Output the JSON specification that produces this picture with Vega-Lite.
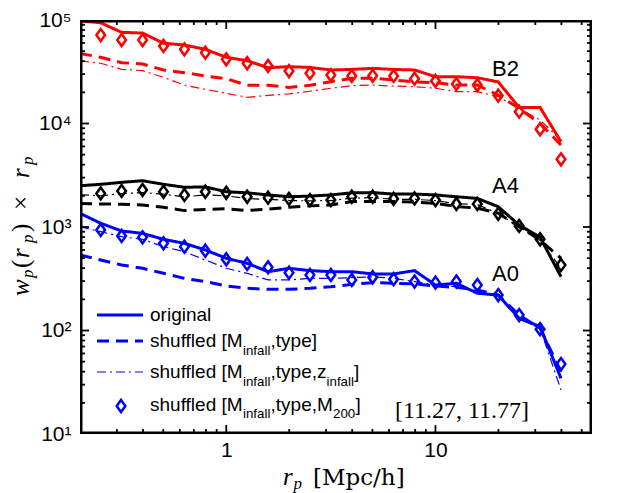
{
  "$schema": "https://vega.github.io/schema/vega-lite/v6.json",
  "width": 512,
  "height": 414,
  "autosize": "none",
  "padding": {"left": 80, "top": 20, "right": 26, "bottom": 59},
  "background": "#ffffff",
  "config": {
    "view": {"stroke": null},
    "axis": {"grid": false, "domain": false, "ticks": false, "labelFont": "Liberation Sans", "labelFontSize": 21, "labelColor": "#000000", "labelOverlap": false, "labelBound": false, "labelFlush": false}
  },
  "datasets": {
    "curves": [
      {"g":"B2","r":0.2,"o":98000,"s":47600,"z":40400},
      {"g":"B2","r":0.2512,"o":94000,"s":43600,"z":38200,"m":71600},
      {"g":"B2","r":0.3162,"o":76000,"s":38700,"z":33400,"m":64100},
      {"g":"B2","r":0.3981,"o":74800,"s":37600,"z":32400,"m":64100},
      {"g":"B2","r":0.5012,"o":59600,"s":32900,"z":27900,"m":56100},
      {"g":"B2","r":0.631,"o":57300,"s":31000,"z":23500,"m":52100},
      {"g":"B2","r":0.7943,"o":52100,"s":28800,"z":21400,"m":48300},
      {"g":"B2","r":1.0,"o":43600,"s":27100,"z":19600,"m":41700},
      {"g":"B2","r":1.2589,"o":40400,"s":23400,"z":17900,"m":38200},
      {"g":"B2","r":1.5849,"o":34600,"s":23400,"z":18700,"m":36000},
      {"g":"B2","r":1.9953,"o":35400,"s":22300,"z":19300,"m":32100},
      {"g":"B2","r":2.5119,"o":34800,"s":23400,"z":20500,"m":30600},
      {"g":"B2","r":3.1623,"o":32900,"s":25300,"z":21900,"m":29400},
      {"g":"B2","r":3.9811,"o":33300,"s":27400,"z":23200,"m":28800},
      {"g":"B2","r":5.0119,"o":34100,"s":27400,"z":23500,"m":28900},
      {"g":"B2","r":6.3096,"o":33300,"s":26300,"z":23000,"m":28800},
      {"g":"B2","r":7.9433,"o":32900,"s":25300,"z":22700,"m":27100},
      {"g":"B2","r":10.0,"o":28300,"s":24800,"z":21900,"m":25800},
      {"g":"B2","r":12.589,"o":28300,"s":23500,"z":20300,"m":24100},
      {"g":"B2","r":15.849,"o":27700,"s":23500,"z":20300,"m":23500},
      {"g":"B2","r":19.953,"o":25200,"s":18800,"z":18200,"m":18600},
      {"g":"B2","r":25.119,"o":14300,"s":14000,"z":14000,"m":13000},
      {"g":"B2","r":31.623,"o":14300,"s":10000,"z":10800,"m":8800},
      {"g":"B2","r":39.811,"o":6670,"s":6200,"z":6900,"m":4510},
      {"g":"A4","r":0.2,"o":2505,"s":1690,"z":2050},
      {"g":"A4","r":0.2512,"o":2585,"s":1670,"z":2000,"m":2110},
      {"g":"A4","r":0.3162,"o":2700,"s":1660,"z":2100,"m":2230},
      {"g":"A4","r":0.3981,"o":2800,"s":1630,"z":2150,"m":2280},
      {"g":"A4","r":0.5012,"o":2585,"s":1550,"z":2080,"m":2190},
      {"g":"A4","r":0.631,"o":2420,"s":1440,"z":1950,"m":2040},
      {"g":"A4","r":0.7943,"o":2440,"s":1480,"z":2050,"m":2190},
      {"g":"A4","r":1.0,"o":2190,"s":1500,"z":2000,"m":2140},
      {"g":"A4","r":1.2589,"o":2140,"s":1440,"z":1880,"m":1960},
      {"g":"A4","r":1.5849,"o":2040,"s":1490,"z":1850,"m":1920},
      {"g":"A4","r":1.9953,"o":1960,"s":1550,"z":1800,"m":1870},
      {"g":"A4","r":2.5119,"o":1990,"s":1600,"z":1790,"m":1820},
      {"g":"A4","r":3.1623,"o":2040,"s":1630,"z":1800,"m":1820},
      {"g":"A4","r":3.9811,"o":2140,"s":1760,"z":1900,"m":1960},
      {"g":"A4","r":5.0119,"o":2150,"s":1760,"z":1920,"m":1960},
      {"g":"A4","r":6.3096,"o":2080,"s":1760,"z":1850,"m":1870},
      {"g":"A4","r":7.9433,"o":2080,"s":1740,"z":1850,"m":1890},
      {"g":"A4","r":10.0,"o":2040,"s":1690,"z":1800,"m":1820},
      {"g":"A4","r":12.589,"o":1960,"s":1580,"z":1680,"m":1670},
      {"g":"A4","r":15.849,"o":1890,"s":1520,"z":1650,"m":1670},
      {"g":"A4","r":19.953,"o":1570,"s":1360,"z":1350,"m":1340},
      {"g":"A4","r":25.119,"o":1044,"s":1006,"z":1000,"m":1023},
      {"g":"A4","r":31.623,"o":795,"s":748,"z":740,"m":760},
      {"g":"A4","r":39.811,"o":331,"s":499,"z":400,"m":430},
      {"g":"A0","r":0.2,"o":1356,"s":536,"z":1006},
      {"g":"A0","r":0.2512,"o":1086,"s":480,"z":901,"m":936},
      {"g":"A0","r":0.3162,"o":915,"s":430,"z":806,"m":819},
      {"g":"A0","r":0.3981,"o":868,"s":399,"z":760,"m":795},
      {"g":"A0","r":0.5012,"o":760,"s":357,"z":646,"m":695},
      {"g":"A0","r":0.631,"o":695,"s":319,"z":578,"m":646},
      {"g":"A0","r":0.7943,"o":600,"s":297,"z":480,"m":590},
      {"g":"A0","r":1.0,"o":499,"s":269,"z":399,"m":488},
      {"g":"A0","r":1.2589,"o":446,"s":256,"z":357,"m":440},
      {"g":"A0","r":1.5849,"o":370,"s":250,"z":308,"m":408},
      {"g":"A0","r":1.9953,"o":399,"s":250,"z":308,"m":362},
      {"g":"A0","r":2.5119,"o":379,"s":256,"z":319,"m":344},
      {"g":"A0","r":3.1623,"o":370,"s":265,"z":319,"m":344},
      {"g":"A0","r":3.9811,"o":370,"s":279,"z":324,"m":308},
      {"g":"A0","r":5.0119,"o":352,"s":290,"z":330,"m":327},
      {"g":"A0","r":6.3096,"o":352,"s":286,"z":319,"m":313},
      {"g":"A0","r":7.9433,"o":379,"s":282,"z":297,"m":297},
      {"g":"A0","r":10.0,"o":275,"s":269,"z":275,"m":290},
      {"g":"A0","r":12.589,"o":286,"s":261,"z":265,"m":297},
      {"g":"A0","r":15.849,"o":229,"s":246,"z":240,"m":275},
      {"g":"A0","r":19.953,"o":220,"s":220,"z":212,"m":220},
      {"g":"A0","r":25.119,"o":131,"s":141,"z":130,"m":141},
      {"g":"A0","r":31.623,"o":109,"s":105,"z":105,"m":103},
      {"g":"A0","r":39.811,"o":34.5,"s":40,"z":26.6,"m":47.4}
    ],
    "xticks": [
      {"v":0.3,"maj":0},{"v":0.4,"maj":0},{"v":0.5,"maj":0},{"v":0.6,"maj":0},{"v":0.7,"maj":0},{"v":0.8,"maj":0},{"v":0.9,"maj":0},
      {"v":1,"maj":1},{"v":2,"maj":0},{"v":3,"maj":0},{"v":4,"maj":0},{"v":5,"maj":0},{"v":6,"maj":0},{"v":7,"maj":0},{"v":8,"maj":0},{"v":9,"maj":0},
      {"v":10,"maj":1},{"v":20,"maj":0},{"v":30,"maj":0},{"v":40,"maj":0},{"v":50,"maj":0}
    ],
    "yticks": [
      {"v":20,"maj":0},{"v":30,"maj":0},{"v":40,"maj":0},{"v":50,"maj":0},{"v":60,"maj":0},{"v":70,"maj":0},{"v":80,"maj":0},{"v":90,"maj":0},
      {"v":100,"maj":1},{"v":200,"maj":0},{"v":300,"maj":0},{"v":400,"maj":0},{"v":500,"maj":0},{"v":600,"maj":0},{"v":700,"maj":0},{"v":800,"maj":0},{"v":900,"maj":0},
      {"v":1000,"maj":1},{"v":2000,"maj":0},{"v":3000,"maj":0},{"v":4000,"maj":0},{"v":5000,"maj":0},{"v":6000,"maj":0},{"v":7000,"maj":0},{"v":8000,"maj":0},{"v":9000,"maj":0},
      {"v":10000,"maj":1},{"v":20000,"maj":0},{"v":30000,"maj":0},{"v":40000,"maj":0},{"v":50000,"maj":0},{"v":60000,"maj":0},{"v":70000,"maj":0},{"v":80000,"maj":0},{"v":90000,"maj":0}
    ],
    "xtickLines": [
      {"v":0.3,"e":"a","y":10},{"v":0.3,"e":"b","y":11.18},{"v":0.4,"e":"a","y":10},{"v":0.4,"e":"b","y":11.18},{"v":0.5,"e":"a","y":10},{"v":0.5,"e":"b","y":11.18},
      {"v":0.6,"e":"a","y":10},{"v":0.6,"e":"b","y":11.18},{"v":0.7,"e":"a","y":10},{"v":0.7,"e":"b","y":11.18},{"v":0.8,"e":"a","y":10},{"v":0.8,"e":"b","y":11.18},
      {"v":0.9,"e":"a","y":10},{"v":0.9,"e":"b","y":11.18},{"v":1,"e":"a","y":10},{"v":1,"e":"b","y":12.2},{"v":2,"e":"a","y":10},{"v":2,"e":"b","y":11.18},
      {"v":3,"e":"a","y":10},{"v":3,"e":"b","y":11.18},{"v":4,"e":"a","y":10},{"v":4,"e":"b","y":11.18},{"v":5,"e":"a","y":10},{"v":5,"e":"b","y":11.18},
      {"v":6,"e":"a","y":10},{"v":6,"e":"b","y":11.18},{"v":7,"e":"a","y":10},{"v":7,"e":"b","y":11.18},{"v":8,"e":"a","y":10},{"v":8,"e":"b","y":11.18},
      {"v":9,"e":"a","y":10},{"v":9,"e":"b","y":11.18},{"v":10,"e":"a","y":10},{"v":10,"e":"b","y":12.2},{"v":20,"e":"a","y":10},{"v":20,"e":"b","y":11.18},
      {"v":30,"e":"a","y":10},{"v":30,"e":"b","y":11.18},{"v":40,"e":"a","y":10},{"v":40,"e":"b","y":11.18},{"v":50,"e":"a","y":10},{"v":50,"e":"b","y":11.18}
    ],
    "frame": [
      {"x":0.2,"y":10,"i":1},{"x":56,"y":10,"i":2},{"x":56,"y":100000,"i":3},{"x":0.2,"y":100000,"i":4},{"x":0.2,"y":10,"i":5}
    ],
    "legendLines": [
      {"x":0.2411,"y":141.2,"kind":"o"},{"x":0.4001,"y":141.2,"kind":"o"},
      {"x":0.2411,"y":79.15,"kind":"s"},{"x":0.4001,"y":79.15,"kind":"s"},
      {"x":0.2411,"y":39.72,"kind":"z"},{"x":0.4001,"y":39.72,"kind":"z"}
    ],
    "legendPoint": [{"x":0.3141,"y":18.64}],
    "txt": [
      {"t":"original","x":0.4322,"y":123.5,"f":"sans","k":"leg"},
      {"t":"shuffled [M","x":0.4322,"y":69.27,"f":"sans","k":"leg"},
      {"t":"infall","x":1.2026,"y":57.98,"f":"sans","k":"sub"},
      {"t":",type]","x":1.6278,"y":69.27,"f":"sans","k":"leg"},
      {"t":"shuffled [M","x":0.4322,"y":34.77,"f":"sans","k":"leg"},
      {"t":"infall","x":1.2026,"y":29.09,"f":"sans","k":"sub"},
      {"t":",type,z","x":1.6278,"y":34.77,"f":"sans","k":"leg"},
      {"t":"infall","x":3.016,"y":29.09,"f":"sans","k":"sub"},
      {"t":"]","x":4.08,"y":34.77,"f":"sans","k":"leg"},
      {"t":"shuffled [M","x":0.4322,"y":16.68,"f":"sans","k":"leg"},
      {"t":"infall","x":1.2026,"y":14.28,"f":"sans","k":"sub"},
      {"t":",type,M","x":1.6278,"y":16.68,"f":"sans","k":"leg"},
      {"t":"200","x":3.238,"y":14.28,"f":"sans","k":"sub"},
      {"t":"]","x":4.148,"y":16.68,"f":"sans","k":"leg"},
      {"t":"B2","x":18.63,"y":28770,"f":"sans","k":"lab"},
      {"t":"A4","x":18.63,"y":2145,"f":"sans","k":"lab"},
      {"t":"A0","x":18.63,"y":302.8,"f":"sans","k":"lab"},
      {"t":"[11.27, 11.77]","x":6.4,"y":14.18,"f":"serif","k":"num"},
      {"t":"[Mpc/h]","x":2.598,"y":3.215,"f":"dserif","k":"ttl"},
      {"t":"r","x":1.868,"y":3.215,"f":"ital","k":"ttl"},
      {"t":"p","x":2.096,"y":2.942,"f":"ital","k":"tsub"},
      {"t":"w","x":0.1141,"y":215.4,"f":"rital","k":"ttl"},
      {"t":"p","x":0.1192,"y":321.5,"f":"rital","k":"tsub"},
      {"t":"(","x":0.1141,"y":401.8,"f":"rserif","k":"ttl"},
      {"t":"r","x":0.1141,"y":501.8,"f":"rital","k":"ttl"},
      {"t":"p","x":0.1192,"y":700.4,"f":"rital","k":"tsub"},
      {"t":")","x":0.1141,"y":894.6,"f":"rserif","k":"ttl"},
      {"t":"×","x":0.1141,"y":1460,"f":"rserif","k":"ttl"},
      {"t":"r","x":0.1141,"y":2974,"f":"rital","k":"ttl"},
      {"t":"p","x":0.1192,"y":3972,"f":"rital","k":"tsub"}
    ]
  },
  "layer": [
    {
      "data": {"name": "curves"},
      "transform": [{"fold": ["o", "s", "z"], "as": ["kind", "w"]}, {"filter": "isValid(datum.w)"}],
      "mark": {"type": "line", "clip": true},
      "encoding": {
        "x": {"field": "r", "type": "quantitative", "scale": {"type": "log", "domain": [0.2, 56], "nice": false},
          "axis": {"orient": "bottom", "title": null, "values": [1, 10],
            "labelExpr": "datum.value == 1 ? '1' : '10'",
            "labelPadding": 5}},
        "y": {"field": "w", "type": "quantitative", "scale": {"type": "log", "domain": [10, 100000], "nice": false},
          "axis": {"orient": "left", "title": null, "values": [10, 100, 1000, 10000, 100000],
            "labelExpr": "datum.value == 10 ? '10¹' : datum.value == 100 ? '10²' : datum.value == 1000 ? '10³' : datum.value == 10000 ? '10⁴' : '10⁵'",
            "labelPadding": 9}},
        "color": {"field": "g", "type": "nominal", "scale": {"domain": ["B2", "A4", "A0"], "range": ["#ff0000", "#000000", "#0000ff"]}, "legend": null},
        "strokeDash": {"field": "kind", "type": "nominal", "scale": {"domain": ["o", "s", "z"], "range": [[1, 0], [12, 7], [9, 4, 2, 4]]}, "legend": null},
        "strokeWidth": {"field": "kind", "type": "nominal", "scale": {"type": "ordinal", "domain": ["o", "s", "z"], "range": [3, 3, 1.2]}, "legend": null},
        "detail": {"field": "g"}
      }
    },
    {
      "data": {"name": "curves"},
      "transform": [{"filter": "isValid(datum.m)"}],
      "mark": {"type": "point", "shape": "M0,-1L0.72,0L0,1L-0.72,0Z", "filled": false, "strokeWidth": 2.5, "size": 144, "opacity": 1, "clip": true},
      "encoding": {
        "x": {"field": "r", "type": "quantitative"},
        "y": {"field": "m", "type": "quantitative"},
        "color": {"field": "g", "type": "nominal", "scale": {"domain": ["B2", "A4", "A0"], "range": ["#ff0000", "#000000", "#0000ff"]}, "legend": null}
      }
    },
    {
      "data": {"name": "xtickLines"},
      "mark": {"type": "line", "color": "#000000", "strokeWidth": 1.8, "clip": true},
      "encoding": {"x": {"field": "v", "type": "quantitative"}, "y": {"field": "y", "type": "quantitative"}, "detail": {"field": "v"}}
    },
    {
      "data": {"name": "xticks"},
      "transform": [{"filter": "datum.maj == 1"}],
      "mark": {"type": "rule", "color": "#000000", "strokeWidth": 1.8, "clip": true},
      "encoding": {"x": {"field": "v", "type": "quantitative"}, "y": {"datum": 100000}, "y2": {"datum": 81800}}
    },
    {
      "data": {"name": "xticks"},
      "transform": [{"filter": "datum.maj == 0"}],
      "mark": {"type": "rule", "color": "#000000", "strokeWidth": 1.8, "clip": true},
      "encoding": {"x": {"field": "v", "type": "quantitative"}, "y": {"datum": 100000}, "y2": {"datum": 89440}}
    },
    {
      "data": {"name": "yticks"},
      "transform": [{"filter": "datum.maj == 1"}],
      "mark": {"type": "rule", "color": "#000000", "strokeWidth": 1.8, "clip": true},
      "encoding": {"y": {"field": "v", "type": "quantitative"}, "x": {"datum": 0.2}, "x2": {"datum": 0.2208}}
    },
    {
      "data": {"name": "yticks"},
      "transform": [{"filter": "datum.maj == 0"}],
      "mark": {"type": "rule", "color": "#000000", "strokeWidth": 1.8, "clip": true},
      "encoding": {"y": {"field": "v", "type": "quantitative"}, "x": {"datum": 0.2}, "x2": {"datum": 0.2113}}
    },
    {
      "data": {"name": "yticks"},
      "transform": [{"filter": "datum.maj == 1"}],
      "mark": {"type": "rule", "color": "#000000", "strokeWidth": 1.8, "clip": true},
      "encoding": {"y": {"field": "v", "type": "quantitative"}, "x": {"datum": 56}, "x2": {"datum": 50.72}}
    },
    {
      "data": {"name": "yticks"},
      "transform": [{"filter": "datum.maj == 0"}],
      "mark": {"type": "rule", "color": "#000000", "strokeWidth": 1.8, "clip": true},
      "encoding": {"y": {"field": "v", "type": "quantitative"}, "x": {"datum": 56}, "x2": {"datum": 53.0}}
    },
    {
      "data": {"name": "frame"},
      "mark": {"type": "line", "color": "#000000", "strokeWidth": 5, "clip": true},
      "encoding": {"x": {"field": "x", "type": "quantitative"}, "y": {"field": "y", "type": "quantitative"}, "order": {"field": "i", "type": "quantitative"}}
    },
    {
      "data": {"name": "legendLines"},
      "mark": {"type": "line", "color": "#0000ff"},
      "encoding": {
        "x": {"field": "x", "type": "quantitative"},
        "y": {"field": "y", "type": "quantitative"},
        "strokeDash": {"field": "kind", "type": "nominal", "scale": {"domain": ["o", "s", "z"], "range": [[1, 0], [12, 7], [9, 4, 2, 4]]}, "legend": null},
        "strokeWidth": {"field": "kind", "type": "nominal", "scale": {"type": "ordinal", "domain": ["o", "s", "z"], "range": [3, 3, 1.2]}, "legend": null}
      }
    },
    {
      "data": {"name": "legendPoint"},
      "mark": {"type": "point", "shape": "M0,-1L0.72,0L0,1L-0.72,0Z", "filled": false, "strokeWidth": 2.5, "size": 144, "opacity": 1, "color": "#0000ff"},
      "encoding": {
        "x": {"field": "x", "type": "quantitative"},
        "y": {"field": "y", "type": "quantitative"}
      }
    },
    {
      "data": {"name": "txt"},
      "transform": [{"filter": "datum.f == 'sans'"}],
      "mark": {"type": "text", "align": "left", "baseline": "alphabetic", "font": "Liberation Sans", "color": "#000000"},
      "encoding": {
        "x": {"field": "x", "type": "quantitative"},
        "y": {"field": "y", "type": "quantitative"},
        "text": {"field": "t"},
        "size": {"field": "k", "type": "nominal", "scale": {"type": "ordinal", "domain": ["leg", "sub", "lab", "num", "ttl", "tsub"], "range": [19, 13.3, 22, 24, 25, 17]}, "legend": null}
      }
    },
    {
      "data": {"name": "txt"},
      "transform": [{"filter": "datum.f == 'serif'"}],
      "mark": {"type": "text", "align": "left", "baseline": "alphabetic", "font": "Liberation Serif", "color": "#000000"},
      "encoding": {
        "x": {"field": "x", "type": "quantitative"},
        "y": {"field": "y", "type": "quantitative"},
        "text": {"field": "t"},
        "size": {"field": "k", "type": "nominal", "scale": {"type": "ordinal", "domain": ["leg", "sub", "lab", "num", "ttl", "tsub"], "range": [19, 13.3, 22, 24, 25, 17]}, "legend": null}
      }
    },
    {
      "data": {"name": "txt"},
      "transform": [{"filter": "datum.f == 'dserif'"}],
      "mark": {"type": "text", "align": "left", "baseline": "alphabetic", "font": "DejaVu Serif", "color": "#000000"},
      "encoding": {
        "x": {"field": "x", "type": "quantitative"},
        "y": {"field": "y", "type": "quantitative"},
        "text": {"field": "t"},
        "size": {"field": "k", "type": "nominal", "scale": {"type": "ordinal", "domain": ["leg", "sub", "lab", "num", "ttl", "tsub"], "range": [19, 13.3, 22, 24, 23, 17]}, "legend": null}
      }
    },
    {
      "data": {"name": "txt"},
      "transform": [{"filter": "datum.f == 'ital'"}],
      "mark": {"type": "text", "align": "left", "baseline": "alphabetic", "font": "Liberation Serif", "fontStyle": "italic", "color": "#000000"},
      "encoding": {
        "x": {"field": "x", "type": "quantitative"},
        "y": {"field": "y", "type": "quantitative"},
        "text": {"field": "t"},
        "size": {"field": "k", "type": "nominal", "scale": {"type": "ordinal", "domain": ["leg", "sub", "lab", "num", "ttl", "tsub"], "range": [19, 13.3, 22, 24, 25, 17]}, "legend": null}
      }
    },
    {
      "data": {"name": "txt"},
      "transform": [{"filter": "datum.f == 'rserif'"}],
      "mark": {"type": "text", "align": "left", "baseline": "alphabetic", "font": "Liberation Serif", "angle": 270, "color": "#000000"},
      "encoding": {
        "x": {"field": "x", "type": "quantitative"},
        "y": {"field": "y", "type": "quantitative"},
        "text": {"field": "t"},
        "size": {"field": "k", "type": "nominal", "scale": {"type": "ordinal", "domain": ["leg", "sub", "lab", "num", "ttl", "tsub"], "range": [19, 13.3, 22, 24, 25, 17]}, "legend": null}
      }
    },
    {
      "data": {"name": "txt"},
      "transform": [{"filter": "datum.f == 'rital'"}],
      "mark": {"type": "text", "align": "left", "baseline": "alphabetic", "font": "Liberation Serif", "fontStyle": "italic", "angle": 270, "color": "#000000"},
      "encoding": {
        "x": {"field": "x", "type": "quantitative"},
        "y": {"field": "y", "type": "quantitative"},
        "text": {"field": "t"},
        "size": {"field": "k", "type": "nominal", "scale": {"type": "ordinal", "domain": ["leg", "sub", "lab", "num", "ttl", "tsub"], "range": [19, 13.3, 22, 24, 25, 17]}, "legend": null}
      }
    }
  ],
  "resolve": {
    "scale": {"size": "independent", "strokeWidth": "independent", "strokeDash": "independent"}
  }
}
